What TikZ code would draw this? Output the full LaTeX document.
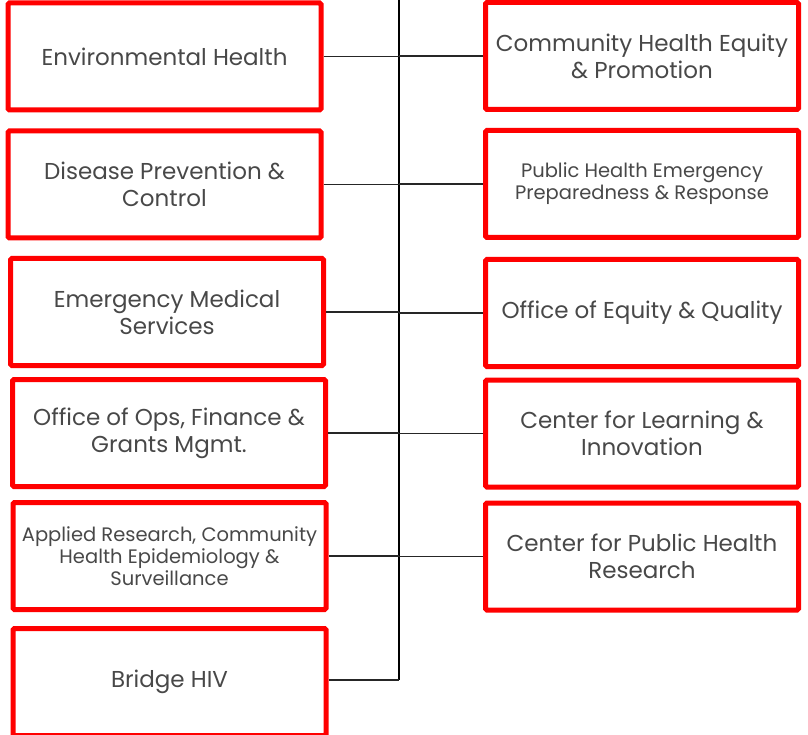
\documentclass[tikz,border=0pt]{standalone}
\usepackage{fontspec}
\setmainfont{Poppins}
\usetikzlibrary{positioning}

\definecolor{boxred}{RGB}{255,0,0}
\definecolor{boxtext}{RGB}{72,72,72}

\begin{document}
\begin{tikzpicture}[x=1pt, y=-1pt,
    unit/.style={draw=boxred, line width=5pt, rounded corners=1.5pt,
      minimum width=313pt, minimum height=107pt, align=center,
      text=boxtext, font=\fontsize{23}{27}\selectfont, inner sep=0pt},
    small/.style={font=\fontsize{19.5}{22}\selectfont},
    link/.style={draw=black!85, line width=1.2pt},
    spine/.style={draw=black, line width=2pt}]
      \useasboundingbox (0,0) rectangle (808,735);
      % left column of units
      \node[unit] (envhealth) at (164.5, 56.5) {Environmental Health};
      \node[unit] (disease) at (164.5, 184.5) {Disease Prevention \&\\Control};
      \node[unit] (ems) at (167, 312) {Emergency Medical\\Services};
      \node[unit] (opsfin) at (169, 433) {Office of Ops, Finance \&\\Grants Mgmt.};
      \node[unit, small] (research) at (169.5, 556) {Applied Research, Community\\Health Epidemiology \&\\Surveillance};
      \node[unit] (bridge) at (169.5, 682) {Bridge HIV};
      % right column of units
      \node[unit] (equity) at (642, 56) {Community Health Equity\\\& Promotion};
      \node[unit, small] (emergency) at (642, 184) {Public Health Emergency\\Preparedness \& Response};
      \node[unit] (quality) at (642, 313) {Office of Equity \& Quality};
      \node[unit] (learning) at (642, 433.5) {Center for Learning \&\\Innovation};
      \node[unit] (phresearch) at (642, 556.5) {Center for Public Health\\Research};
      % the trunk line
      \coordinate (trunktop) at (399, -5);
      \coordinate (trunkend) at (399, 680);
      \draw[spine] (trunktop) -- (trunkend);
      % branches to the trunk
      \foreach \u in {envhealth, disease, ems, opsfin, research}
        \draw[link] (\u.east) -- (\u.east -| trunktop);
      \draw[link] (bridge.east |- trunkend) -- (trunkend);
      \foreach \u in {equity, emergency, quality, learning, phresearch}
        \draw[link] (\u.west) -- (\u.west -| trunktop);
    \end{tikzpicture}
\end{document}
